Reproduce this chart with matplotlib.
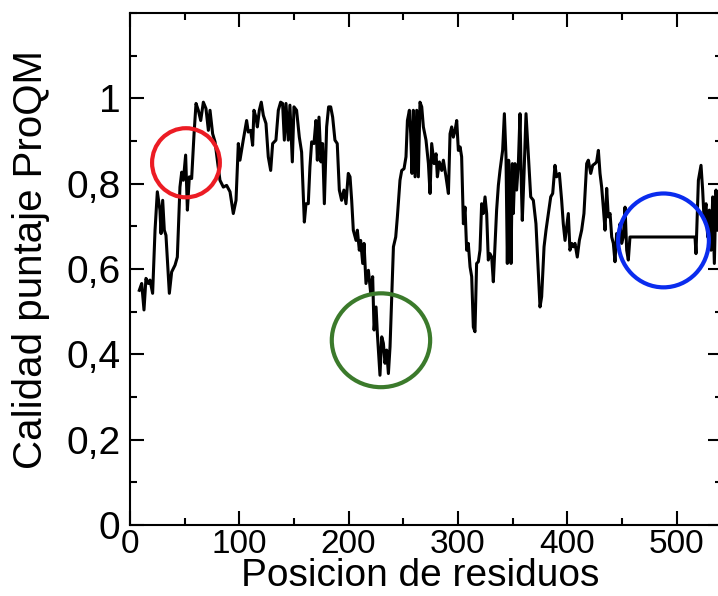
import matplotlib
matplotlib.use('Agg')
from matplotlib import pyplot as plt
from matplotlib.patches import Ellipse
from matplotlib.ticker import MultipleLocator, FuncFormatter

# residue position and ProQM score
pos_a = [8.5, 10.7, 12.8, 14.6, 16.8, 18.3, 20.7, 22.9, 25.0, 27.4, 28.4, 29.9,
         31.4, 32.9, 36.0, 38.1, 41.2, 43.3, 45.7, 47.3, 48.8, 50.9, 52.5, 54.3,
         56.4, 58.6, 60.4, 62.5, 64.7, 67.1, 69.5, 71.7, 73.2, 75.6, 77.8, 79.9,
         82.3, 85.4, 88.4, 91.5, 94.5, 97.0, 99.1]
score_a = [0.550, 0.566, 0.504, 0.578, 0.566, 0.574, 0.543, 0.691, 0.781, 0.738,
           0.683, 0.761, 0.691, 0.679, 0.543, 0.593, 0.609, 0.628, 0.792, 0.827,
           0.808, 0.867, 0.738, 0.816, 0.812, 0.917, 0.988, 0.972, 0.948, 0.991,
           0.976, 0.925, 0.972, 0.917, 0.898, 0.855, 0.808, 0.792, 0.796, 0.781,
           0.730, 0.761, 0.894]

pos_b = [100.6, 103.6, 106.7, 108.2, 110.4, 112.2, 113.4, 115.2, 116.5, 118.3,
         120.1, 122.0, 124.4, 126.5, 128.7, 130.5, 133.5, 135.7, 137.8, 139.6,
         141.2, 142.7, 144.8, 146.3, 148.5, 150.0, 152.4, 154.9, 157.0, 159.5,
         161.0, 163.1, 164.6, 166.2, 168.3, 170.1, 171.4, 172.9, 174.7, 176.2,
         177.8, 179.9, 181.7, 183.6, 185.4, 187.5, 189.6, 191.5, 193.6, 195.7,
         197.6, 199.7]
score_b = [0.855, 0.902, 0.948, 0.921, 0.925, 0.890, 0.972, 0.956, 0.933, 0.972,
           0.991, 0.960, 0.941, 0.863, 0.831, 0.894, 0.902, 0.972, 0.991, 0.988,
           0.902, 0.988, 0.902, 0.984, 0.851, 0.980, 0.972, 0.909, 0.874, 0.710,
           0.753, 0.753, 0.839, 0.898, 0.894, 0.948, 0.855, 0.956, 0.851, 0.894,
           0.753, 0.933, 0.980, 0.980, 0.956, 0.902, 0.894, 0.785, 0.761, 0.785,
           0.753, 0.824]

pos_c = [201.3, 202.8, 204.3, 206.8, 208.0, 209.8, 211.0, 212.9, 214.1, 215.9,
         218.1, 220.2, 222.0, 223.3, 225.1, 226.3, 228.7, 230.3, 231.8, 233.3,
         234.8, 236.4, 237.9, 239.4, 241.0, 243.1, 244.6, 247.0, 248.6, 250.7,
         252.5, 253.8, 255.6, 256.8, 258.0, 259.2, 260.8, 262.3, 263.8, 265.3,
         266.9, 268.4, 270.8, 273.0, 274.5, 276.0, 278.2, 280.0, 281.2, 283.0,
         285.2, 286.7, 289.1, 291.3, 292.8, 294.3, 295.8, 297.4, 298.9, 300.4]
score_c = [0.816, 0.761, 0.691, 0.667, 0.691, 0.644, 0.667, 0.613, 0.660, 0.566,
           0.597, 0.543, 0.582, 0.457, 0.511, 0.449, 0.351, 0.441, 0.426, 0.379,
           0.410, 0.355, 0.418, 0.535, 0.652, 0.675, 0.722, 0.808, 0.831, 0.835,
           0.863, 0.948, 0.972, 0.917, 0.824, 0.972, 0.816, 0.972, 0.816, 0.991,
           0.980, 0.933, 0.902, 0.847, 0.777, 0.894, 0.847, 0.870, 0.816, 0.851,
           0.831, 0.855, 0.816, 0.777, 0.917, 0.933, 0.909, 0.925, 0.948, 0.878]

pos_d = [302.0, 303.4, 305.0, 306.5, 308.0, 309.5, 311.1, 312.6, 314.1, 315.6,
         317.1, 318.7, 320.2, 321.7, 323.2, 324.8, 326.3, 327.8, 329.3, 330.9,
         332.4, 333.9, 335.4, 337.0, 338.5, 340.9, 342.5, 344.0, 345.2, 346.4,
         347.6, 348.6, 349.8, 350.7, 352.2, 353.7, 355.3, 356.8, 358.0, 358.9,
         360.5, 362.3, 364.4, 366.6, 369.0, 371.4, 373.6, 375.1, 376.6, 378.8,
         380.6, 382.7, 384.9, 386.7, 388.8, 390.3, 392.8, 394.9, 396.4, 398.0,
         399.5, 401.0, 402.5, 404.1, 405.6, 407.1, 409.2, 411.1, 413.2, 415.3]
score_d = [0.886, 0.863, 0.706, 0.745, 0.644, 0.660, 0.605, 0.582, 0.464, 0.453,
           0.613, 0.617, 0.644, 0.753, 0.730, 0.769, 0.730, 0.621, 0.636, 0.628,
           0.570, 0.652, 0.738, 0.796, 0.831, 0.878, 0.964, 0.863, 0.613, 0.855,
           0.785, 0.613, 0.847, 0.730, 0.847, 0.785, 0.847, 0.964, 0.800, 0.714,
           0.824, 0.964, 0.870, 0.769, 0.761, 0.706, 0.589, 0.511, 0.535, 0.652,
           0.691, 0.730, 0.769, 0.777, 0.843, 0.816, 0.824, 0.761, 0.706, 0.667,
           0.699, 0.730, 0.644, 0.660, 0.652, 0.660, 0.628, 0.667, 0.691, 0.730]

pos_e = [417.8, 419.3, 421.5, 423.3, 425.4, 426.9, 428.5, 430.0, 431.5, 433.0,
         434.6, 436.1, 437.6, 439.2, 440.7, 442.2, 443.7, 445.2, 446.8, 448.3,
         449.8, 451.3, 452.9, 454.4, 455.9, 457.4, 516.9, 517.8, 520.0, 522.4,
         523.9, 525.1, 527.0, 528.5, 530.0, 531.6, 533.1, 534.6, 536.1, 538.0]
score_e = [0.847, 0.855, 0.824, 0.843, 0.847, 0.851, 0.878, 0.824, 0.792, 0.745,
           0.691, 0.789, 0.722, 0.730, 0.675, 0.660, 0.617, 0.683, 0.667, 0.706,
           0.660, 0.675, 0.745, 0.644, 0.621, 0.675, 0.675, 0.636, 0.808, 0.843,
           0.785, 0.722, 0.753, 0.675, 0.738, 0.644, 0.769, 0.613, 0.785, 0.691]

x_ticks = [0, 100, 200, 300, 400, 500]
y_ticks = [0, 0.2, 0.4, 0.6, 0.8, 1.0]

# highlighted regions: centre x, centre y, width, height, colour
marks = [
    (51.2, 0.849, 62, 0.162, '#ec1c24'),
    (229.6, 0.433, 90, 0.220, '#3b7a2b'),
    (488.1, 0.667, 83, 0.220, '#0a2cee'),
]

SANS = ['Liberation Sans', 'DejaVu Sans']


def comma(v, pos):
    return '{:g}'.format(round(v, 2)).replace('.', ',')


def main():
    x = pos_a + pos_b + pos_c + pos_d + pos_e
    y = score_a + score_b + score_c + score_d + score_e

    fig = plt.figure(figsize=(7.18, 5.96), dpi=100)
    # right spine sits just past the picture edge, like the original crop
    ax = fig.add_axes([130/718, 71/596, 592/718, 512/596])
    ax.plot(x, y, color='black', lw=2.2, zorder=3)

    for cx, cy, w, h, c in marks:
        ax.add_patch(Ellipse((cx, cy), w, h, fill=False, edgecolor=c,
                             lw=3.0, zorder=4))

    ax.set_xlim(0, 541.6)
    ax.set_ylim(0, 1.2)
    ax.set_xticks(x_ticks)
    ax.set_yticks(y_ticks)
    ax.xaxis.set_minor_locator(MultipleLocator(50))
    ax.yaxis.set_minor_locator(MultipleLocator(0.1))
    ax.yaxis.set_major_formatter(FuncFormatter(comma))

    ax.tick_params(which='both', direction='in', top=True, right=True,
                   width=1.5, color='black')
    ax.tick_params(which='major', length=10)
    ax.tick_params(which='minor', length=5)
    ax.tick_params(axis='x', pad=3)
    ax.tick_params(axis='y', pad=7)
    for lab in ax.get_xticklabels():
        lab.set_family(SANS)
        lab.set_fontsize(24)
    for lab in ax.get_yticklabels():
        lab.set_family(SANS)
        lab.set_fontsize(28)
    for s in ax.spines.values():
        s.set_linewidth(1.5)

    ax.set_xlabel('Posicion de residuos', family=SANS, fontsize=28)
    ax.xaxis.set_label_coords(0.49, -0.064)
    ax.set_ylabel('Calidad puntaje ProQM', family=SANS, fontsize=29)
    ax.yaxis.set_label_coords(-0.135, 0.518)

    fig.savefig('out.png', dpi=100)


if __name__ == '__main__':
    main()
